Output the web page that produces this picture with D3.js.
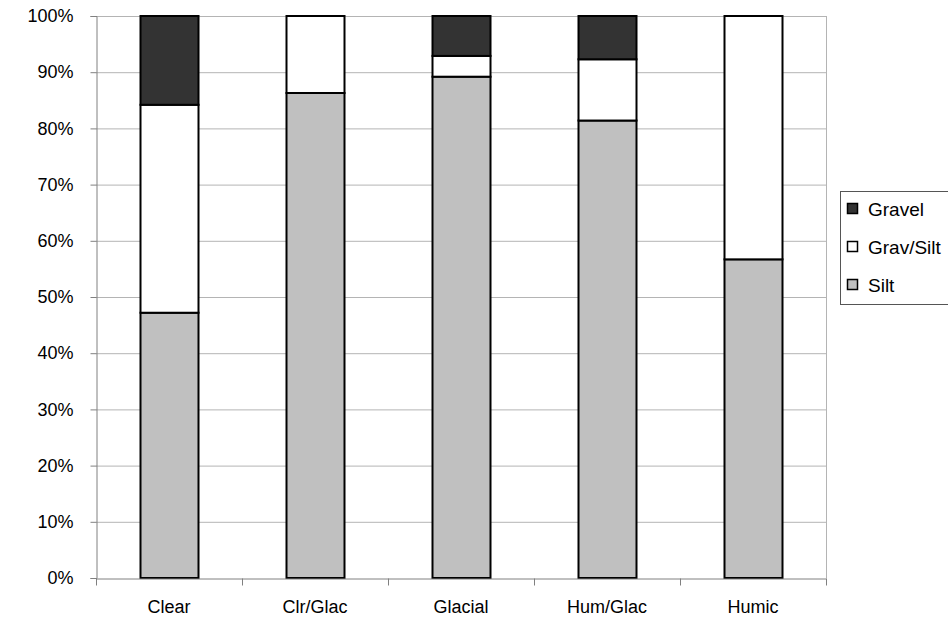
<!DOCTYPE html>
<html>
<head>
<meta charset="utf-8">
<script src="https://cdn.jsdelivr.net/npm/d3@7"></script>
<style>
  html, body { margin: 0; padding: 0; background: #fff; }
  svg { display: block; }
  text { font-family: "Liberation Sans", Arial, sans-serif; fill: #000; }
</style>
</head>
<body>
<div id="chart"></div>
<script>
const categories = ["Clear", "Clr/Glac", "Glacial", "Hum/Glac", "Humic"];
const seriesNames = ["Silt", "Grav/Silt", "Gravel"];
const silt     = [47.2, 86.3, 89.2, 81.4, 56.7];
const gravSilt = [37.0, 13.7, 3.7, 10.9, 43.3];
const gravel   = [15.8, 0.0, 7.1, 7.7, 0.0];
const yTicks = [0, 10, 20, 30, 40, 50, 60, 70, 80, 90, 100];
const colors = { "Silt": "#c0c0c0", "Grav/Silt": "#ffffff", "Gravel": "#333333" };

const W = 948, H = 629;
const margin = { left: 96, right: 122, top: 16, bottom: 51 };
const svg = d3.select("#chart").append("svg").attr("width", W).attr("height", H);

const x = d3.scaleBand().domain(categories).range([margin.left, W - margin.right]).paddingInner(0.6).paddingOuter(0.3);
const xOuter = d3.scaleBand().domain(categories).range([margin.left, W - margin.right]);
const y = d3.scaleLinear().domain([0, 100]).range([H - margin.bottom, margin.top]);

// gridlines
svg.append("g").selectAll("line").data(yTicks.filter(t => t > 0)).join("line")
  .attr("x1", margin.left).attr("x2", W - margin.right)
  .attr("y1", d => y(d) + 0.5).attr("y2", d => y(d) + 0.5)
  .attr("stroke", "#b4b4b4").attr("stroke-width", 1);
// right border
svg.append("line").attr("x1", W - margin.right + 0.5).attr("x2", W - margin.right + 0.5)
  .attr("y1", y(100)).attr("y2", y(0)).attr("stroke", "#b4b4b4");

const data = categories.map((c, i) => ({ cat: c, Silt: silt[i], "Grav/Silt": gravSilt[i], Gravel: gravel[i] }));
const stack = d3.stack().keys(seriesNames)(data);

svg.append("g").selectAll("g").data(stack).join("g")
  .attr("fill", d => colors[d.key])
  .selectAll("rect").data(d => d.filter(p => p[1] - p[0] > 0)).join("rect")
  .attr("x", d => Math.round(x(d.data.cat)) + 0.5)
  .attr("y", d => y(d[1]))
  .attr("width", Math.round(x.bandwidth()))
  .attr("height", d => y(d[0]) - y(d[1]))
  .attr("stroke", "#000").attr("stroke-width", 2);

// y axis
const yAxis = d3.axisLeft(y).tickValues(yTicks).tickFormat(d => d + "%").tickSize(6).tickPadding(17);
const gy = svg.append("g").attr("transform", `translate(${margin.left + 0.5},0)`).call(yAxis);
gy.select(".domain").attr("stroke", "#808080");
gy.selectAll(".tick line").attr("stroke", "#808080");
gy.selectAll(".tick text").style("font-size", "18px").attr("font-family", null);

// x axis
const xAxis = d3.axisBottom(xOuter).tickSize(0).tickPadding(22);
const gx = svg.append("g").attr("transform", `translate(0,${H - margin.bottom + 0.5})`).call(xAxis);
gx.select(".domain").attr("stroke", "#808080");
gx.selectAll(".tick text").style("font-size", "18px").attr("font-family", null);
// category boundary ticks
const bounds = categories.map(c => xOuter(c)).concat([W - margin.right]);
gx.append("g").selectAll("line").data(bounds).join("line")
  .attr("x1", d => Math.round(d) + 0.5).attr("x2", d => Math.round(d) + 0.5)
  .attr("y1", 0).attr("y2", 7).attr("stroke", "#808080");

// legend
const lg = svg.append("g");
lg.append("rect").attr("x", 840.5).attr("y", 191.5).attr("width", 120).attr("height", 113)
  .attr("fill", "#fff").attr("stroke", "#555");
const legendItems = ["Gravel", "Grav/Silt", "Silt"];
const li = lg.selectAll("g").data(legendItems).join("g")
  .attr("transform", (d, i) => `translate(847,${209 + i * 38})`);
li.append("rect").attr("x", 0.5).attr("y", -5.5).attr("width", 10).attr("height", 10)
  .attr("fill", d => colors[d]).attr("stroke", "#000").attr("stroke-width", 1.5);
li.append("text").attr("x", 21).attr("y", 0).attr("dy", "0.35em").style("font-size", "19px").text(d => d);
</script>
</body>
</html>
